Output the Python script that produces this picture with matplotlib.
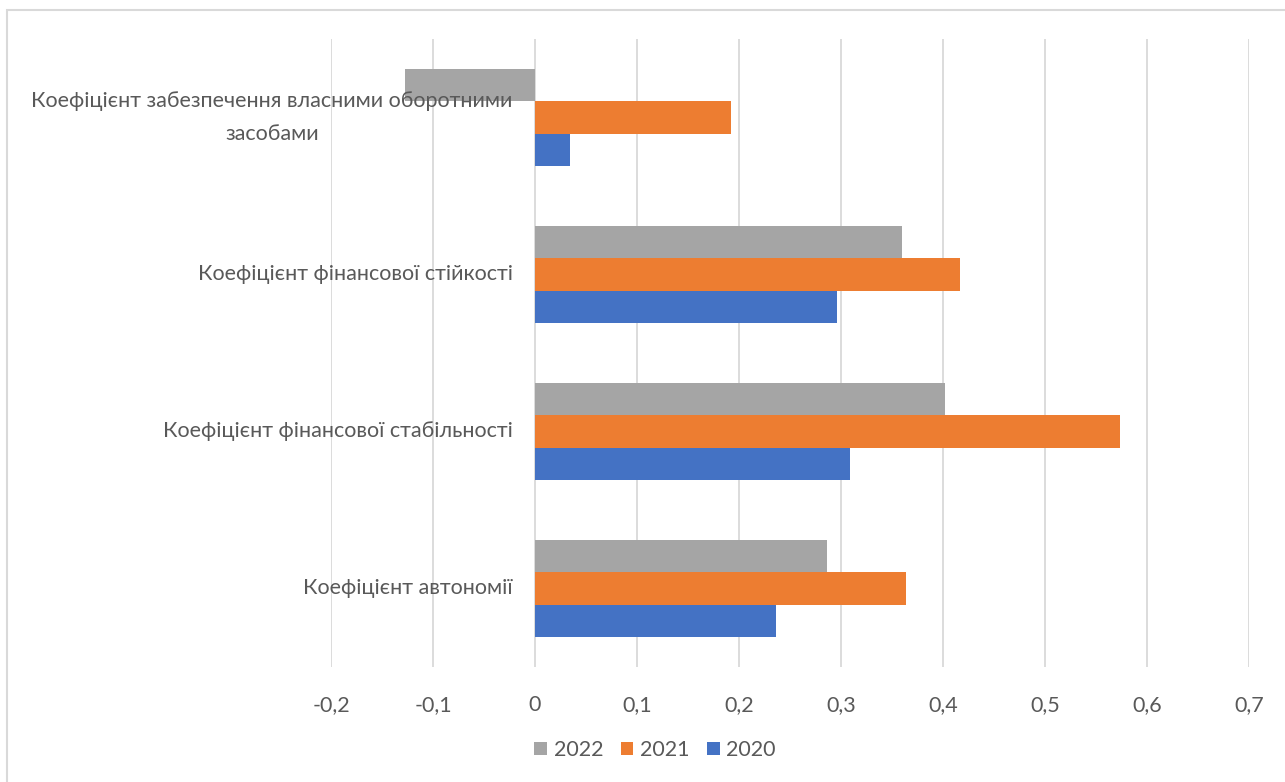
import numpy as np
import matplotlib
matplotlib.use("Agg")
import matplotlib.pyplot as plt
from matplotlib.patches import Rectangle

plt.rcParams["font.family"] = ["Lato", "DejaVu Sans"]

categories = [
    "Коефіцієнт автономії",
    "Коефіцієнт фінансової стабільності",
    "Коефіцієнт фінансової стійкості",
    "Коефіцієнт забезпечення власними оборотними\nзасобами",
]
v2020 = [0.236, 0.309, 0.296, 0.034]
v2021 = [0.364, 0.574, 0.417, 0.192]
v2022 = [0.286, 0.402, 0.360, -0.127]
years = ["2020", "2021", "2022"]
colors = ["#4472C4", "#ED7D31", "#A5A5A5"]
ticks = [-0.2, -0.1, 0, 0.1, 0.2, 0.3, 0.4, 0.5, 0.6, 0.7]

txt = "#595959"
fig = plt.figure(figsize=(12.85, 7.82), dpi=100)
ax = fig.add_axes([331 / 1285, 1 - 667 / 782, (1249 - 331) / 1285, (667 - 39) / 782])

y = np.arange(len(categories))
h = 0.205
bars = []
for k, (vals, col, lab) in enumerate(zip([v2020, v2021, v2022], colors, years)):
    b = ax.barh(y + (k - 1) * h, vals, height=h, color=col, label=lab, zorder=3)
    bars.append(b)

ax.set_xlim(-0.2, 0.7)
ax.set_ylim(-0.5, len(categories) - 0.5)
ax.set_xticks(ticks)
ax.set_xticklabels([("%g" % t).replace(".", ",") for t in ticks], fontsize=15.5, color=txt)
ax.tick_params(axis="x", length=0, pad=20)
ax.set_yticks([])
for s in ax.spines.values():
    s.set_visible(False)
ax.grid(axis="x", color="#D9D9D9", linewidth=1.3, zorder=0)

for i, c in enumerate(categories):
    ax.text(-0.022, i, c, ha="right", va="center", multialignment="center",
            fontsize=15.5, color=txt, linespacing=1.85)

handles = bars[::-1]
fig.legend(handles, ["2022", "2021", "2020"], loc="center", bbox_to_anchor=(655 / 1285, 1 - 750 / 782),
           ncol=3, frameon=False, fontsize=15.5, labelcolor=txt, handlelength=0.6, handleheight=0.6,
           handletextpad=0.3, columnspacing=0.8)

fig.patches.append(Rectangle((7 / 1285, -0.05), 1.1, 1 - 10 / 782 + 0.05, transform=fig.transFigure,
                             fill=False, edgecolor="#D9D9D9", linewidth=1.5))

fig.savefig("out.png", dpi=100)
